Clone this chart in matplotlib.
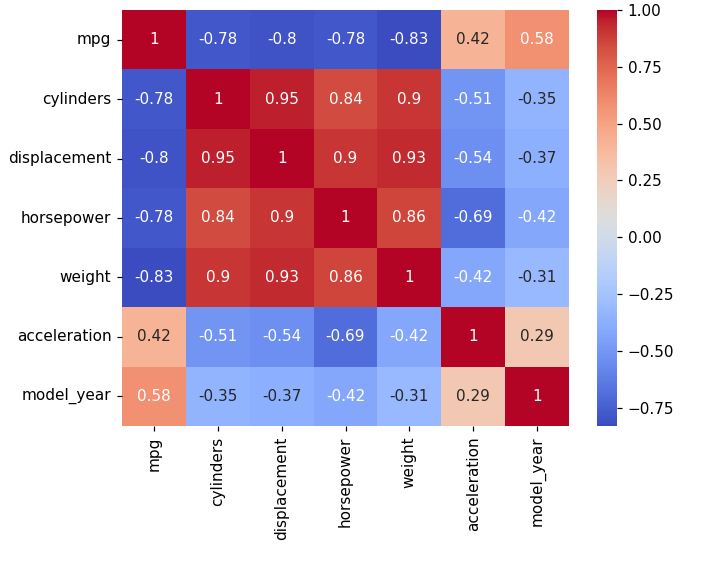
import matplotlib
matplotlib.use("Agg")
import matplotlib.pyplot as plt
import seaborn as sns
import numpy as np
import pandas as pd

labels = ["mpg", "cylinders", "displacement", "horsepower", "weight", "acceleration", "model_year"]
mpg_row = [1, -0.78, -0.80, -0.78, -0.83, 0.42, 0.58]
cylinders_row = [-0.78, 1, 0.95, 0.84, 0.90, -0.51, -0.35]
displacement_row = [-0.80, 0.95, 1, 0.90, 0.93, -0.54, -0.37]
horsepower_row = [-0.78, 0.84, 0.90, 1, 0.86, -0.69, -0.42]
weight_row = [-0.83, 0.90, 0.93, 0.86, 1, -0.42, -0.31]
acceleration_row = [0.42, -0.51, -0.54, -0.69, -0.42, 1, 0.29]
model_year_row = [0.58, -0.35, -0.37, -0.42, -0.31, 0.29, 1]

corr = pd.DataFrame([mpg_row, cylinders_row, displacement_row, horsepower_row,
                     weight_row, acceleration_row, model_year_row],
                    index=labels, columns=labels)

DPI = 110
fig = plt.figure(figsize=(728 / DPI, 563 / DPI), dpi=DPI)
ax = fig.add_axes([122/728, 1 - 426/563, 447/728, 416/563])
cax = fig.add_axes([597/728, 1 - 426/563, 20/728, 416/563])
sns.heatmap(corr, annot=True, cmap="coolwarm", ax=ax, cbar_ax=cax)
fig.savefig("out.png", dpi=DPI)
